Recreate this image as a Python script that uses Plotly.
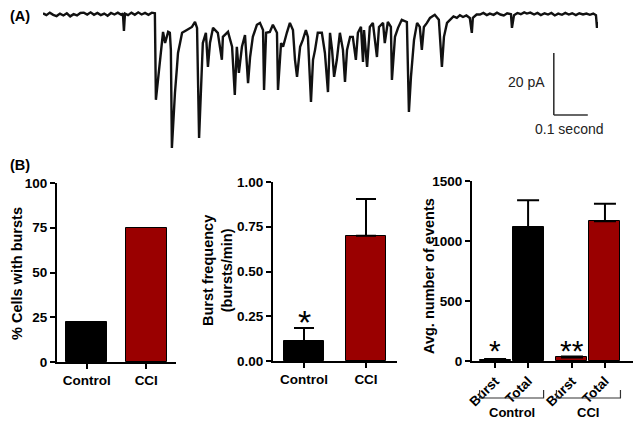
import plotly.graph_objects as go

# ---------------- Panel A: current trace (time in ms, current in pA) ----------------
trace_t_ms = [0, 10, 20, 30, 40, 50, 60, 70, 80, 90, 100, 110, 120, 130, 140, 150, 160, 170, 180, 190,
              200, 210, 220, 230, 235, 238, 241, 250, 260, 270, 280, 290, 300, 310, 320, 329,
              332, 338, 344, 350, 353, 359, 365, 368, 373, 376, 379, 382, 388, 394, 397, 403, 409,
              423, 438, 447, 453, 459, 467, 470, 479, 485, 491, 500, 514, 526, 529, 544, 556, 564,
              570, 576, 585, 594, 603, 609, 617, 629, 638, 647, 650, 656, 667, 676, 688, 691, 700,
              706, 717, 726, 735, 741, 747, 756, 764, 773, 779, 788, 794, 800, 808, 820, 829, 838,
              844, 850, 856, 864, 873, 882, 888, 894, 903, 911, 920, 926, 935, 941, 944, 953, 961,
              970, 982, 988, 1000, 1005, 1014, 1023, 1026, 1035, 1044, 1055, 1070, 1076, 1082, 1091,
              1100, 1108, 1114, 1120, 1129, 1138, 1152, 1164, 1173, 1179, 1188, 1197, 1207, 1217,
              1226, 1235, 1245, 1255, 1261, 1264, 1275,
              1285, 1295, 1305, 1314, 1325, 1335, 1345, 1355, 1365, 1376, 1379, 1385, 1395, 1405,
              1415, 1423, 1433, 1444, 1454, 1464, 1475, 1485, 1495, 1505, 1515, 1526, 1536, 1546,
              1556, 1567, 1577, 1588, 1598, 1608, 1618, 1626, 1629, 1632]
trace_pA = [0.2, -0.4, 0.4, -0.3, -0.7, 0.1, -0.5, 0.2, -0.8, -0.1, -0.5, 0.3, 0.4, -0.2, 0.5, -0.3, 0.3, -0.4, 0.1, -0.6,
            0.3, -0.2, 0.4, -0.3, 0.1, -5.5, 0.1, -0.4, 0.4, -0.3, 0.5, -0.2, 0.3, -0.3, 0.4, 0.2,
            -27.7, -21.3, -17.1, -10.6, -5.8, -9.4, -7.4, -5.8, -6.1, -11.6, -43.2, -36.5, -25.5, -17.1, -12.6, -9.4, -6.1,
            -5.2, -4.2, -2.6, -4.5, -40.0, -17.1, -9.4, -6.1, -17.1, -9.4, -4.5, -6.1, -14.8, -7.4, -5.8, -10.6, -26.1,
            -10.6, -19.0, -10.6, -6.8, -22.3, -13.9, -7.4, -3.5, -2.9, -5.2, -24.5, -6.1, -5.8, -3.5, -6.1, -24.5, -9.4,
            -10.6, -6.1, -2.9, -5.2, -14.8, -20.3, -10.6, -8.4, -5.2, -7.4, -28.4, -14.8, -11.6, -6.1, -6.1, -12.6, -25.2,
            -6.1, -11.6, -20.3, -14.8, -6.1, -11.6, -21.9, -11.6, -7.4, -7.4, -14.8, -6.1, -4.2, -15.5, -5.2, -17.1, -4.2,
            -2.9, -13.9, -4.2, -2.9, -9.4, -2.6, -4.2, -21.3, -7.4, -4.5, -1.9, -2.6, -31.6, -20.3, -8.4,
            -2.9, -4.2, -11.6, -4.2, -2.9, -1.3, -0.3, -1.9, -17.1, -7.4, -2.9, -1.9, -0.8, -1.3,
            -0.4, -1.0, -0.5, -1.3, -6.1, -1.3, -0.2,
            -0.2, 0.3, -0.4, 0.1, -0.3, 0.4, -0.2, -0.5, 0.2, -0.1, -4.5, -0.4, 0.3, -0.1,
            0.5, 0.1, 0.4, -0.2, 0.3, -0.4, 0.2, -0.2, 0.3, -0.5, 0.1, -0.3, 0.3, -0.2,
            0.2, -0.4, 0.2, -0.2, 0.1, -0.3, 0.1, -0.4, -4.5, -2.6]
scale_pA = 20
scale_ms = 100

# ---------------- Panel B data ----------------
groups = ["Control", "CCI"]
cells_with_bursts_pct = [22.5, 75]
burst_freq = [0.11, 0.70]
burst_freq_sem = [0.075, 0.205]
event_group = ["Control", "Control", "CCI", "CCI"]
event_kind = ["Burst", "Total", "Burst", "Total"]
events_mean = [12, 1115, 30, 1165]
events_sem = [4, 225, 8, 145]

BLACK = "#000000"
RED = "#9a0000"
grp_color = {"Control": BLACK, "CCI": RED}
FONT = "Liberation Sans, Arial, sans-serif"
W, H = 644, 424
OFF = 8  # page body margin offset in the browser


def px(x):
    return (x - OFF) / W


def py(y):
    return 1 - (y - OFF) / H


fig = go.Figure()

# trace
fig.add_trace(go.Scatter(x=trace_t_ms, y=trace_pA, mode="lines",
                         line=dict(color="#111111", width=2.4), xaxis="x4", yaxis="y4",
                         hoverinfo="skip"))

# B1
fig.add_trace(go.Bar(x=groups, y=cells_with_bursts_pct, width=0.69,
                     marker=dict(color=[grp_color[g] for g in groups], line=dict(color="black", width=1)),
                     xaxis="x", yaxis="y"))
# B2
fig.add_trace(go.Bar(x=groups, y=burst_freq, width=0.65,
                     marker=dict(color=[grp_color[g] for g in groups], line=dict(color="black", width=1)),
                     error_y=dict(type="data", symmetric=False, array=burst_freq_sem,
                                  arrayminus=[0] * len(groups), color="black", thickness=2, width=10),
                     xaxis="x2", yaxis="y2"))
# B3 positions: groups separated by a wider gap
group_index = {g: i for i, g in enumerate(groups)}
kind_index = {"Burst": 0, "Total": 1}
ev_pos = [group_index[g] * 2.33 + kind_index[k] for g, k in zip(event_group, event_kind)]
fig.add_trace(go.Bar(x=ev_pos, y=events_mean, width=0.94,
                     marker=dict(color=[grp_color[g] for g in event_group], line=dict(color="black", width=1)),
                     error_y=dict(type="data", symmetric=False, array=events_sem,
                                  arrayminus=[0] * len(events_mean), color="black", thickness=2, width=11),
                     xaxis="x3", yaxis="y3"))

axis_common = dict(showline=True, linecolor="black", linewidth=2, ticks="outside", tickwidth=2,
                   ticklen=5, tickcolor="black", showgrid=False, zeroline=False, automargin=False,
                   tickfont=dict(family=FONT, size=13.5, color="black", weight="bold"))

fig.update_layout(
    template="none",
    width=W, height=H, margin=dict(l=0, r=0, t=0, b=0, pad=0), autosize=False,
    paper_bgcolor="white", plot_bgcolor="white", showlegend=False,
    font=dict(family=FONT, color="black"),
    bargap=0,
    xaxis=dict(domain=[px(57), px(176)], range=[-0.5, 1.5], anchor="y", **axis_common),
    yaxis=dict(domain=[py(362), py(183)], range=[0, 100], tickvals=[0, 25, 50, 75, 100],
               anchor="x", **axis_common),
    xaxis2=dict(domain=[px(273), px(397)], range=[-0.5, 1.5], anchor="y2", **axis_common),
    yaxis2=dict(domain=[py(361), py(182)], range=[0, 1], tickvals=[0, 0.25, 0.5, 0.75, 1.0],
                tickformat=".2f", anchor="x2", **axis_common),
    xaxis3=dict(domain=[px(472), px(633)], range=[-0.70, 4.18], anchor="y3",
                tickvals=ev_pos, ticktext=event_kind, tickangle=-45, **axis_common),
    yaxis3=dict(domain=[py(361), py(181)], range=[0, 1500], tickvals=[0, 500, 1000, 1500],
                anchor="x3", **axis_common),
    xaxis4=dict(domain=[px(43), px(598)], range=[0, 1632], visible=False, anchor="y4", automargin=False),
    yaxis4=dict(domain=[py(155), py(8)], range=[-45.5, 1.9], visible=False, anchor="x4", automargin=False),
)

# scale bar
sb_t0, sb_top = 1502, -12.6
fig.add_shape(type="line", xref="x4", yref="y4", x0=sb_t0, x1=sb_t0, y0=sb_top, y1=sb_top - scale_pA,
              line=dict(color="#333333", width=1.6))
fig.add_shape(type="line", xref="x4", yref="y4", x0=sb_t0, x1=sb_t0 + scale_ms,
              y0=sb_top - scale_pA, y1=sb_top - scale_pA, line=dict(color="#333333", width=1.6))

annotations = []
annotations.append(dict(xref="x4", yref="y4", x=sb_t0 - 20, y=sb_top - scale_pA / 2 + 0.5,
                        text=f"{scale_pA} pA", showarrow=False, xanchor="right", yanchor="middle",
                        font=dict(family=FONT, size=14, color="#222222")))
annotations.append(dict(xref="x4", yref="y4", x=sb_t0 + scale_ms / 2 - 5, y=sb_top - scale_pA - 4.6,
                        text=f"{scale_ms / 1000:g} second", showarrow=False, xanchor="center",
                        yanchor="middle", font=dict(family=FONT, size=14, color="#222222")))

# panel letters
annotations.append(dict(xref="paper", yref="paper", x=px(8), y=py(16), text="<b>(A)</b>",
                        showarrow=False, xanchor="left", yanchor="middle",
                        font=dict(family=FONT, size=14.5)))
annotations.append(dict(xref="paper", yref="paper", x=px(8), y=py(165), text="<b>(B)</b>",
                        showarrow=False, xanchor="left", yanchor="middle",
                        font=dict(family=FONT, size=14.5)))

# axis titles
annotations.append(dict(xref="paper", yref="paper", x=px(17), y=py(274), text="<b>% Cells with bursts</b>",
                        textangle=-90, showarrow=False, xanchor="center", yanchor="middle",
                        font=dict(family=FONT, size=14.5)))
annotations.append(dict(xref="paper", yref="paper", x=px(217), y=py(270),
                        text="<b>Burst frequency<br>(bursts/min)</b>",
                        textangle=-90, showarrow=False, xanchor="center", yanchor="middle",
                        font=dict(family=FONT, size=14.5)))
annotations.append(dict(xref="paper", yref="paper", x=px(429), y=py(276), text="<b>Avg. number of events</b>",
                        textangle=-90, showarrow=False, xanchor="center", yanchor="middle",
                        font=dict(family=FONT, size=14.5)))

# significance stars
annotations.append(dict(xref="x2", yref="y2", x=0, y=burst_freq[0] + burst_freq_sem[0] + 0.035,
                        text="*", showarrow=False, yanchor="middle", font=dict(family=FONT, size=34)))
annotations.append(dict(xref="x3", yref="y3", x=ev_pos[0], y=events_mean[0] + 75, text="*",
                        showarrow=False, yanchor="middle", font=dict(family=FONT, size=30)))
annotations.append(dict(xref="x3", yref="y3", x=ev_pos[2], y=events_mean[2] + 57, text="**",
                        showarrow=False, yanchor="middle", font=dict(family=FONT, size=30)))

# group brackets and labels under panel B3
for g in groups:
    xs = [p for p, gg in zip(ev_pos, event_group) if gg == g]
    x0, x1 = min(xs) - 0.47, max(xs) + 0.47
    fig.add_shape(type="path", xref="x3", yref="paper",
                  path=f"M {x0},{py(390)} L {x0},{py(398)} L {x1},{py(398)} L {x1},{py(390)}",
                  line=dict(color="#333333", width=1.2))
    annotations.append(dict(xref="x3", yref="paper", x=(min(xs) + max(xs)) / 2, y=py(412),
                            text=f"<b>{g}</b>", showarrow=False, xanchor="center", yanchor="middle",
                            font=dict(family=FONT, size=13)))

fig.update_layout(annotations=annotations)

fig.write_html("out.html")
